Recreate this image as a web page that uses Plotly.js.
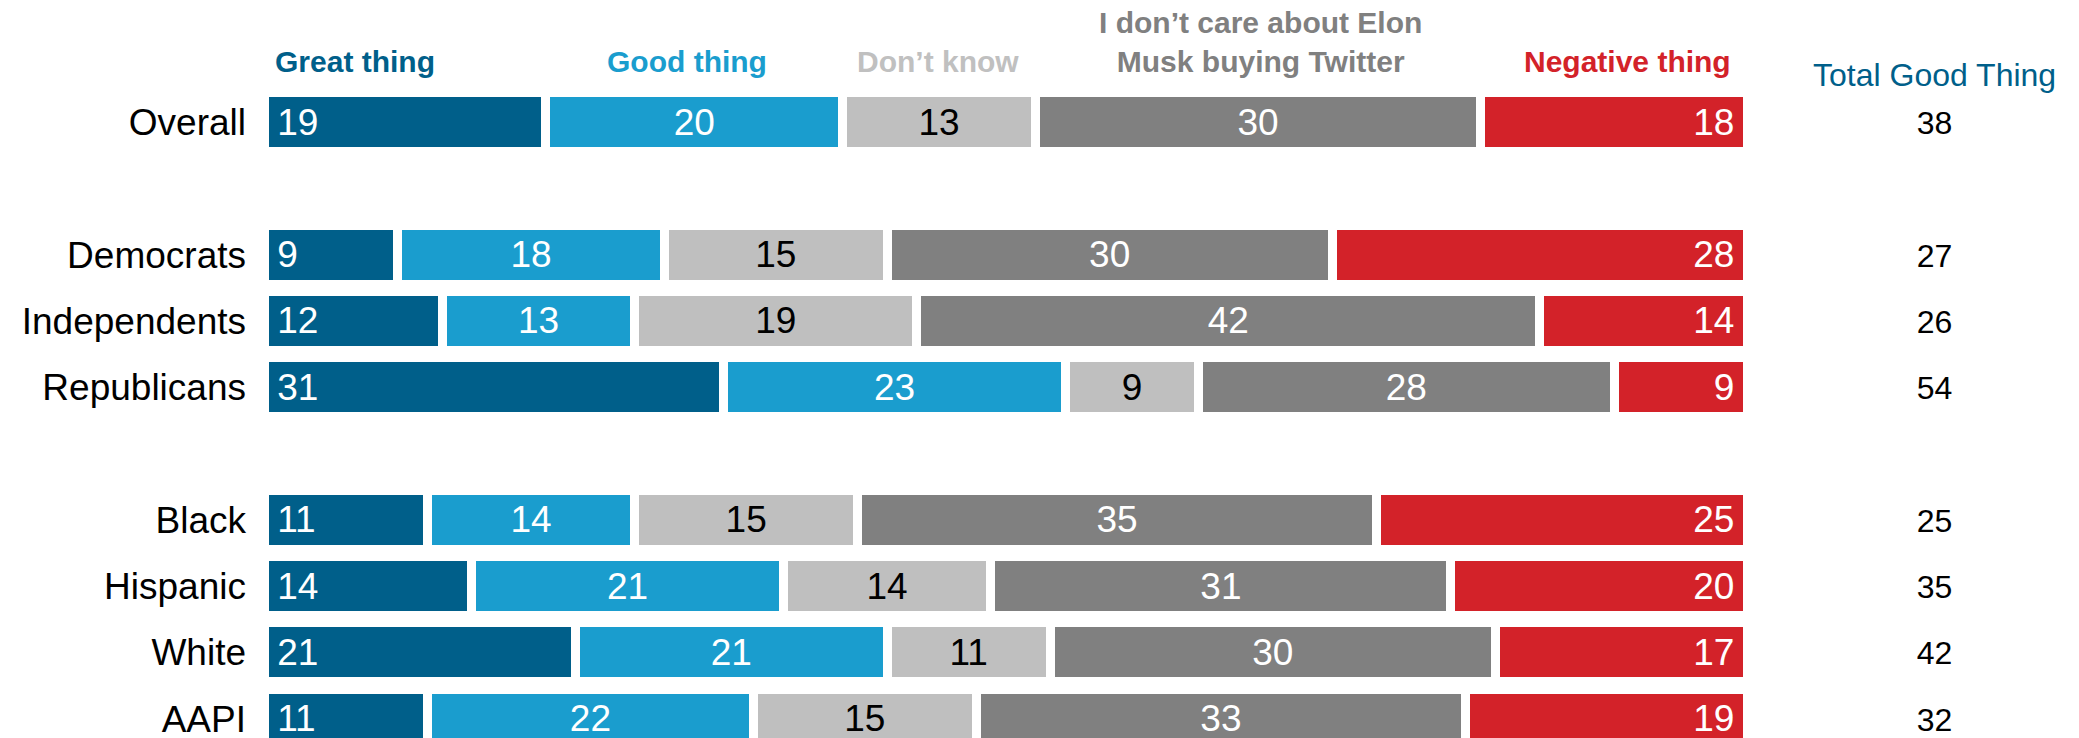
<!DOCTYPE html>
<html><head><meta charset="utf-8">
<script src="https://cdn.plot.ly/plotly-3.0.1.min.js"></script>
<style>html,body{margin:0;padding:0;background:#fff;} #chart{width:2079px;height:738px;}</style>
</head><body><div id="chart"></div>
<script>
// ---- data ----
const groups = [["Overall"], ["Democrats", "Independents", "Republicans"], ["Black", "Hispanic", "White", "AAPI"]];
const seriesNames = ["Great thing", "Good thing", "Don’t know", "I don’t care about Elon<br>Musk buying Twitter", "Negative thing"];
const greatThing    = [19, 9, 12, 31, 11, 14, 21, 11];
const goodThing     = [20, 18, 13, 23, 14, 21, 21, 22];
const dontKnow      = [13, 15, 19, 9, 15, 14, 11, 15];
const dontCare      = [30, 30, 42, 28, 35, 31, 30, 33];
const negativeThing = [18, 28, 14, 9, 25, 20, 17, 19];
const totalGoodThing = [38, 27, 26, 54, 25, 35, 42, 32];
const totalHeader = "Total Good Thing";

// ---- styling ----
const FONT = "Liberation Sans, Arial, sans-serif";
const colors = ["#005f8a", "#1a9dce", "#bfbfbf", "#808080", "#d32229"];
const headerColors = ["#005f8a", "#1a9dce", "#c0c0c0", "#808080", "#d32229"];
const textColors = ["#ffffff", "#ffffff", "#000000", "#ffffff", "#ffffff"];
const anchors = ["start", "middle", "middle", "middle", "end"];
const templates = ["\u00a0%{x}", "%{x}", "%{x}", "%{x}", "%{x}\u00a0"];
const headerX = [6.1, 28.5, 45.4, 67.2, 91.9];
const headerY = [-0.92, -0.92, -0.92, -1.2, -0.92];
const TOTAL_X = 112.6;

// row positions: a blank row between groups
const categories = [];
const positions = [];
let p = 0;
groups.forEach(g => { g.forEach(c => { categories.push(c); positions.push(p); p += 1; }); p += 1; });

const seriesValues = [greatThing, goodThing, dontKnow, dontCare, negativeThing];
const traces = seriesValues.map((vals, i) => ({
  type: "bar", orientation: "h",
  x: vals, y: positions,
  name: seriesNames[i],
  marker: { color: colors[i], line: { color: "#ffffff", width: 9 } },
  texttemplate: templates[i],
  textposition: "inside",
  insidetextanchor: anchors[i],
  insidetextfont: { family: FONT, size: 37, color: textColors[i] },
  hoverinfo: "skip"
}));

traces.push({
  type: "scatter", mode: "text",
  x: positions.map(() => TOTAL_X), y: positions.map(v => v + 0.06),
  text: totalGoodThing.map(String),
  textposition: "middle center",
  textfont: { family: FONT, size: 32, color: "#000000" },
  cliponaxis: false, hoverinfo: "skip"
});

const annotations = seriesNames.map((n, i) => ({
  text: "<b>" + n + "</b>", x: headerX[i], y: headerY[i], xref: "x", yref: "y",
  showarrow: false, xanchor: "center", yanchor: "middle", align: "center",
  font: { family: FONT, size: 30, color: headerColors[i] }
}));
annotations.push({
  text: totalHeader, x: TOTAL_X, y: -0.71, xref: "x", yref: "y",
  showarrow: false, xanchor: "center", yanchor: "middle",
  font: { family: FONT, size: 32, color: "#005f8a" }
});

const layout = {
  width: 2079, height: 738,
  margin: { l: 264, r: 5, t: 0, b: 0, pad: 0 },
  barmode: "stack", bargap: 0.11,
  showlegend: false,
  paper_bgcolor: "#ffffff", plot_bgcolor: "#ffffff",
  font: { family: FONT, color: "#000000" },
  xaxis: { range: [0, 122], visible: false, fixedrange: true },
  yaxis: {
    range: [9.29, -1.84], tickvals: positions, ticktext: categories,
    tickfont: { family: FONT, size: 37, color: "#000000" },
    showgrid: false, zeroline: false, showline: false, ticks: "",
    ticklabelstandoff: 17, ticklabeloverflow: "allow", fixedrange: true
  },
  annotations: annotations
};

Plotly.newPlot("chart", traces, layout, { displayModeBar: false, staticPlot: true });
</script>
</body></html>
